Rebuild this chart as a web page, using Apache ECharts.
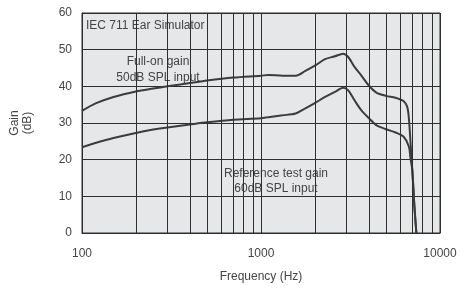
<!DOCTYPE html>
<html>
<head>
<meta charset="utf-8">
<style>
  html, body { margin: 0; padding: 0; background: #fff; }
  #chart { width: 460px; height: 288px; }
</style>
<script src="https://cdn.jsdelivr.net/npm/echarts@6/dist/echarts.min.js"></script>
</head>
<body>
<div id="chart"></div>
<script>
// frequency (Hz) / gain (dB) pairs
const fullOnGain = [
  [100, 33.3], [120, 35.4], [150, 37.1], [200, 38.6], [250, 39.4], [300, 40.0],
  [400, 40.9], [500, 41.6], [700, 42.4], [1000, 42.9], [1100, 43.1], [1320, 42.9],
  [1560, 42.9], [1770, 44.2], [2010, 45.7], [2280, 47.4], [2590, 48.2], [2880, 48.9],
  [3070, 48.0], [3330, 45.3], [3630, 43.0], [3990, 40.3], [4410, 38.3], [4990, 37.4],
  [5640, 36.9], [6250, 36.0], [6560, 34.4], [6700, 31.3], [6840, 24.9], [6990, 17.7],
  [7200, 7], [7380, 0]
];
const referenceGain = [
  [100, 23.4], [120, 24.6], [150, 25.9], [200, 27.3], [250, 28.2], [300, 28.8],
  [400, 29.6], [500, 30.2], [700, 30.9], [1000, 31.3], [1100, 31.6], [1320, 32.1],
  [1560, 32.6], [1770, 34.0], [2010, 35.5], [2280, 37.1], [2590, 38.5], [2880, 39.6],
  [3070, 38.9], [3330, 36.2], [3630, 33.5], [3990, 31.4], [4410, 29.4], [4990, 28.3],
  [5640, 27.4], [6250, 26.3], [6700, 23.6], [6840, 20.4], [7000, 17.2], [7200, 7],
  [7380, 0]
];
const minorFreqs = [200, 300, 400, 500, 600, 700, 800, 900,
  2000, 3000, 4000, 5000, 6000, 7000, 8000, 9000];
const gainTicks = [0, 10, 20, 30, 40, 50, 60];

const textColor = '#444';
const gridColor = '#2e2e2e';
const curveColor = '#3c3c3c';
const fontFamily = 'Liberation Sans, Arial, sans-serif';

const chart = echarts.init(document.getElementById('chart'));

const option = {
  animation: false,
  textStyle: { fontFamily: fontFamily },
  grid: {
    left: 76, right: 20, top: 13, bottom: 53,
    show: true,
    backgroundColor: '#e6e7e8',
    borderColor: gridColor,
    borderWidth: 1
  },
  xAxis: {
    type: 'log',
    logBase: 10,
    min: 100,
    max: 10000,
    name: 'Frequency (Hz)',
    nameLocation: 'middle',
    nameGap: 38,
    nameTextStyle: { color: textColor, fontSize: 12, fontFamily: fontFamily },
    axisLine: { show: true, lineStyle: { color: gridColor, width: 1 } },
    axisTick: { show: false },
    axisLabel: {
      color: textColor, fontSize: 12, margin: 15, fontFamily: fontFamily,
      formatter: v => String(Math.round(v))
    },
    splitLine: { show: true, lineStyle: { color: gridColor, width: 1 } }
  },
  yAxis: {
    type: 'value',
    min: gainTicks[0],
    max: gainTicks[gainTicks.length - 1],
    interval: 10,
    name: 'Gain\n(dB)',
    nameLocation: 'middle',
    nameRotate: 90,
    nameGap: 48,
    nameTextStyle: { color: textColor, fontSize: 12, lineHeight: 13, fontFamily: fontFamily },
    axisLine: { show: true, lineStyle: { color: gridColor, width: 1 } },
    axisTick: { show: false },
    axisLabel: { color: textColor, fontSize: 12, margin: 10, fontFamily: fontFamily },
    splitLine: { show: true, lineStyle: { color: gridColor, width: 1 } }
  },
  series: [
    {
      name: 'minor grid',
      type: 'line',
      data: [],
      silent: true,
      markLine: {
        silent: true,
        symbol: 'none',
        label: { show: false },
        lineStyle: { color: gridColor, width: 1, type: 'solid' },
        data: minorFreqs.map(f => ({ xAxis: f }))
      }
    },
    {
      name: 'Full-on gain',
      type: 'line',
      data: fullOnGain,
      smooth: 0.3,
      showSymbol: false,
      lineStyle: { color: curveColor, width: 2 }
    },
    {
      name: 'Reference test gain',
      type: 'line',
      data: referenceGain,
      smooth: 0.3,
      showSymbol: false,
      lineStyle: { color: curveColor, width: 2 }
    }
  ],
  graphic: [
    {
      type: 'text', left: 86, top: 20,
      style: { text: 'IEC 711 Ear Simulator', fill: textColor, fontSize: 12, fontFamily: fontFamily }
    },
    {
      type: 'text', x: 158, y: 54,
      style: {
        text: 'Full-on gain\n50dB SPL input', fill: textColor, fontSize: 12,
        lineHeight: 16, align: 'center', fontFamily: fontFamily
      }
    },
    {
      type: 'text', x: 276, y: 166,
      style: {
        text: 'Reference test gain\n60dB SPL input', fill: textColor, fontSize: 12,
        lineHeight: 15, align: 'center', fontFamily: fontFamily
      }
    }
  ]
};

chart.setOption(option);
</script>
</body>
</html>
